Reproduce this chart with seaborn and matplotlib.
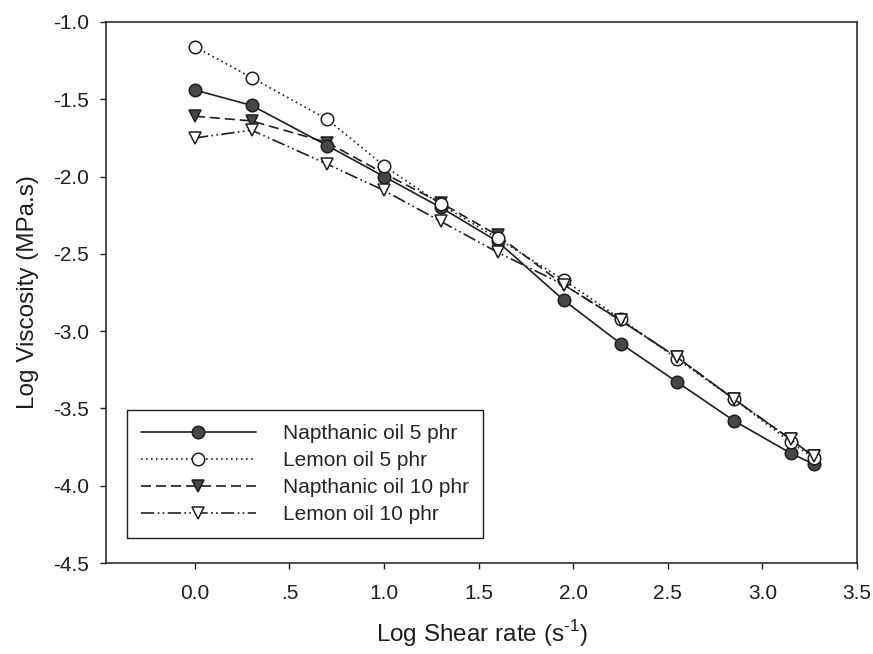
import matplotlib
matplotlib.use("Agg")
import matplotlib.pyplot as plt
import seaborn as sns
import pandas as pd

# Log shear rate (s^-1) at which viscosity was measured
log_shear = [0.0, 0.30, 0.70, 1.00, 1.30, 1.60, 1.95, 2.25, 2.55, 2.85, 3.15, 3.27]

# Log viscosity (MPa.s) for each formulation
napthanic_5 = [-1.44, -1.54, -1.80, -2.00, -2.20, -2.42, -2.80, -3.08, -3.33, -3.58, -3.79, -3.86]
lemon_5 = [-1.16, -1.36, -1.63, -1.93, -2.18, -2.40, -2.67, -2.92, -3.18, -3.44, -3.72, -3.82]
napthanic_10 = [-1.61, -1.64, -1.78, -1.98, -2.17, -2.38, -2.70, -2.93, -3.17, -3.44, -3.70, -3.81]
lemon_10 = [-1.75, -1.70, -1.92, -2.09, -2.29, -2.49, -2.70, -2.93, -3.17, -3.44, -3.70, -3.81]

series_names = ["Napthanic oil 5 phr", "Lemon oil 5 phr", "Napthanic oil 10 phr", "Lemon oil 10 phr"]
series_values = [napthanic_5, lemon_5, napthanic_10, lemon_10]

x_ticks = [0.0, 0.5, 1.0, 1.5, 2.0, 2.5, 3.0, 3.5]
x_tick_labels = ["0.0", ".5", "1.0", "1.5", "2.0", "2.5", "3.0", "3.5"]
y_ticks = [-4.5, -4.0, -3.5, -3.0, -2.5, -2.0, -1.5, -1.0]
y_tick_labels = ["-4.5", "-4.0", "-3.5", "-3.0", "-2.5", "-2.0", "-1.5", "-1.0"]

df = pd.DataFrame({
    "shear": log_shear * len(series_names),
    "viscosity": sum(series_values, []),
    "series": sum([[n] * len(log_shear) for n in series_names], []),
})

sns.set_theme(style="ticks")
plt.rcParams["font.family"] = ["Liberation Sans", "DejaVu Sans"]
plt.rcParams["mathtext.fontset"] = "custom"
plt.rcParams["mathtext.rm"] = "Liberation Sans"

fig = plt.figure(figsize=(8.73, 6.54), dpi=100)
ax = fig.add_axes([0.1214, 0.1391, 0.8603, 0.8273])

ink = "#1e1e1e"
fill = "#474747"
styles = {
    "Napthanic oil 5 phr": dict(linestyle="-", marker="o", mfc=fill, z=3),
    "Lemon oil 5 phr": dict(linestyle=(0, (1, 2)), marker="o", mfc="white", z=4),
    "Napthanic oil 10 phr": dict(linestyle=(0, (6, 3)), marker="v", mfc=fill, z=2),
    "Lemon oil 10 phr": dict(linestyle=(0, (8, 2, 1, 2, 1, 2)), marker="v", mfc="white", z=5),
}

for name in series_names:
    st = styles[name]
    sub = df[df["series"] == name]
    sns.lineplot(
        data=sub, x="shear", y="viscosity", ax=ax, label=name,
        color=ink, linewidth=1.2, linestyle=st["linestyle"],
        marker=st["marker"], markersize=9, markerfacecolor=st["mfc"],
        markeredgecolor=ink, markeredgewidth=1.1, zorder=st["z"],
        estimator=None, sort=False,
    )

ax.set_xlim(-0.47, 3.5)
ax.set_ylim(-4.5, -1.0)
ax.set_xticks(x_ticks)
ax.set_xticklabels(x_tick_labels)
ax.set_yticks(y_ticks)
ax.set_yticklabels(y_tick_labels)
ax.tick_params(axis="both", direction="out", length=4, width=1.0, color=ink,
               labelsize=15, labelcolor=ink)
ax.tick_params(axis="x", pad=11)
ax.tick_params(axis="y", pad=8)
for sp in ax.spines.values():
    sp.set_visible(True)
    sp.set_color(ink)
    sp.set_linewidth(1.1)

ax.set_xlabel("Log Shear rate (s$^{\\text{-1}}$)", fontsize=17.5, color=ink, labelpad=11)
ax.set_ylabel("Log Viscosity (MPa.s)", fontsize=17.5, color=ink, labelpad=10)

leg = ax.legend(loc="lower left", bbox_to_anchor=(0.028, 0.046), borderaxespad=0,
                fontsize=15, frameon=True, fancybox=False, edgecolor=ink,
                handlelength=5.5, handletextpad=1.3, labelspacing=0.38,
                borderpad=0.68, numpoints=1)
leg.get_frame().set_linewidth(1.0)
leg.get_frame().set_facecolor("white")
leg.get_frame().set_alpha(1.0)
leg.set_zorder(10)

fig.savefig("out.png", dpi=100)
